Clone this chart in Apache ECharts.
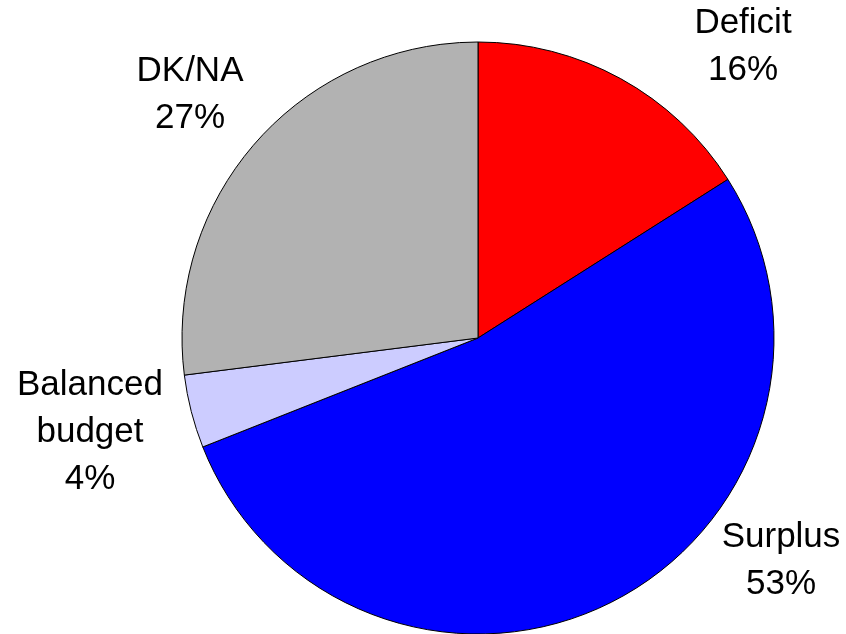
<!DOCTYPE html>
<html>
<head>
<meta charset="utf-8">
<script src="https://cdn.jsdelivr.net/npm/echarts@6/dist/echarts.min.js"></script>
<style>
  html, body { margin: 0; padding: 0; background: #fff; }
</style>
</head>
<body>
<div id="pie" style="width: 846px; height: 634px"></div>
<script>
var categories = ['Deficit', 'Surplus', 'Balanced\nbudget', 'DK/NA']
var values = [16, 53, 4, 27]
var colors = ['#FF0000', '#0000FF', '#CCCCFF', '#B2B2B2']
// where each label sits (centre of the text block)
var labelSpots = [[743, 47], [781, 561], [90, 432], [190, 95]]

var myChart = echarts.init(document.getElementById('pie'))
var option = {
  animation: false,
  series: [
    {
      type: 'pie',
      center: [478, 338],
      radius: 296,
      startAngle: 90,
      clockwise: true,
      data: categories.map(function (name, i) {
        return { name: name, value: values[i], itemStyle: { color: colors[i] } }
      }),
      itemStyle: {
        borderColor: '#000',
        borderWidth: 1
      },
      label: {
        show: true,
        position: 'outside',
        formatter: '{b}\n{c}%',
        fontFamily: 'Liberation Sans, Arial, sans-serif',
        fontSize: 35,
        lineHeight: 47,
        color: '#000',
        align: 'center',
        overflow: 'none'
      },
      labelLine: { show: false },
      labelLayout: function (params) {
        var p = labelSpots[params.dataIndex]
        return { x: p[0], y: p[1], align: 'center', verticalAlign: 'middle' }
      },
      emphasis: { disabled: true }
    }
  ]
}
myChart.setOption(option)
</script>
</body>
</html>
